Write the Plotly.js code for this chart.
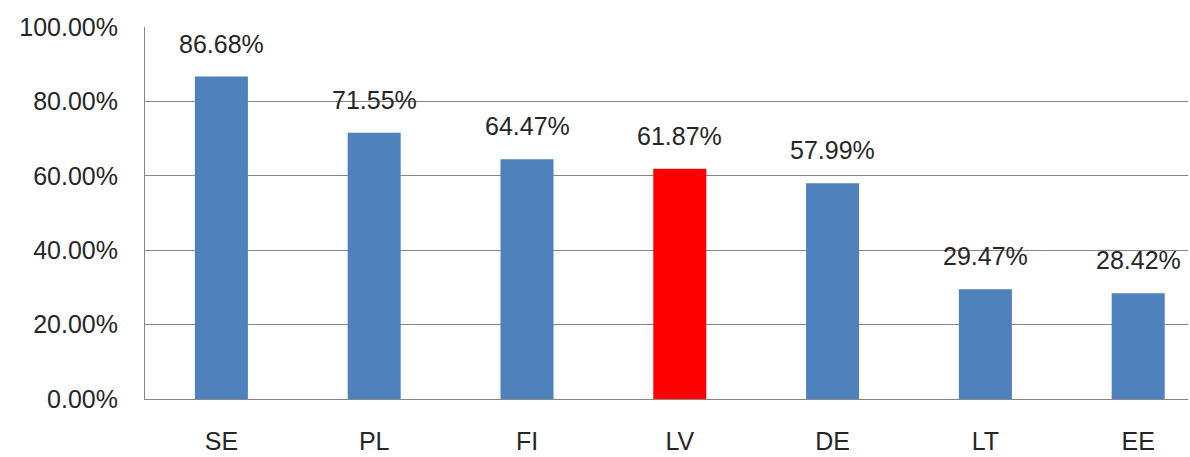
<!DOCTYPE html>
<html><head><meta charset="utf-8">
<script src="https://cdn.plot.ly/plotly-3.0.1.min.js"></script>
<style>html,body{margin:0;padding:0;background:#fff}#chart{width:1190px;height:457px}</style>
</head><body><div id="chart"></div>
<script>
const categories = ["SE", "PL", "FI", "LV", "DE", "LT", "EE"];
const values = [0.8668, 0.7155, 0.6447, 0.6187, 0.5799, 0.2947, 0.2842];
const highlight = "LV";
const tickValues = [0, 0.2, 0.4, 0.6, 0.8, 1.0];

const blue = "#4F81BD", red = "#FF0000";
const colors = categories.map(c => c === highlight ? red : blue);
const font = "Liberation Sans, Arial, sans-serif";

const trace = {
  type: "bar", x: categories, y: values,
  marker: {color: colors, line: {width: 0}},
  hoverinfo: "none"
};
const annotations = categories.map((c, i) => ({
  x: c, y: values[i], xref: "x", yref: "y",
  text: (values[i] * 100).toFixed(2) + "%",
  showarrow: false, yanchor: "bottom", yshift: 17,
  font: {family: font, size: 25, color: "#262626"}
}));
const layout = {
  width: 1190, height: 457,
  margin: {l: 145, r: 2, t: 27, b: 58},
  paper_bgcolor: "#fff", plot_bgcolor: "#fff",
  bargap: 0.653, showlegend: false,
  xaxis: {
    type: "category", range: [-0.5, 6.326],
    showline: true, linecolor: "#868686", linewidth: 1,
    ticks: "outside", ticklen: 20, tickcolor: "rgba(0,0,0,0)",
    tickfont: {family: font, size: 25, color: "#262626"},
    showgrid: false, zeroline: false, fixedrange: true
  },
  yaxis: {
    range: [0, 1], tickvals: tickValues, tickformat: ".2%",
    showline: true, linecolor: "#868686", linewidth: 1,
    showgrid: true, gridcolor: "#868686", gridwidth: 1,
    ticks: "outside", ticklen: 21, tickcolor: "rgba(0,0,0,0)",
    tickfont: {family: font, size: 25, color: "#262626"},
    zeroline: false, fixedrange: true
  },
  annotations: annotations
};
Plotly.newPlot("chart", [trace], layout, {displayModeBar: false, staticPlot: true});
</script></body></html>
